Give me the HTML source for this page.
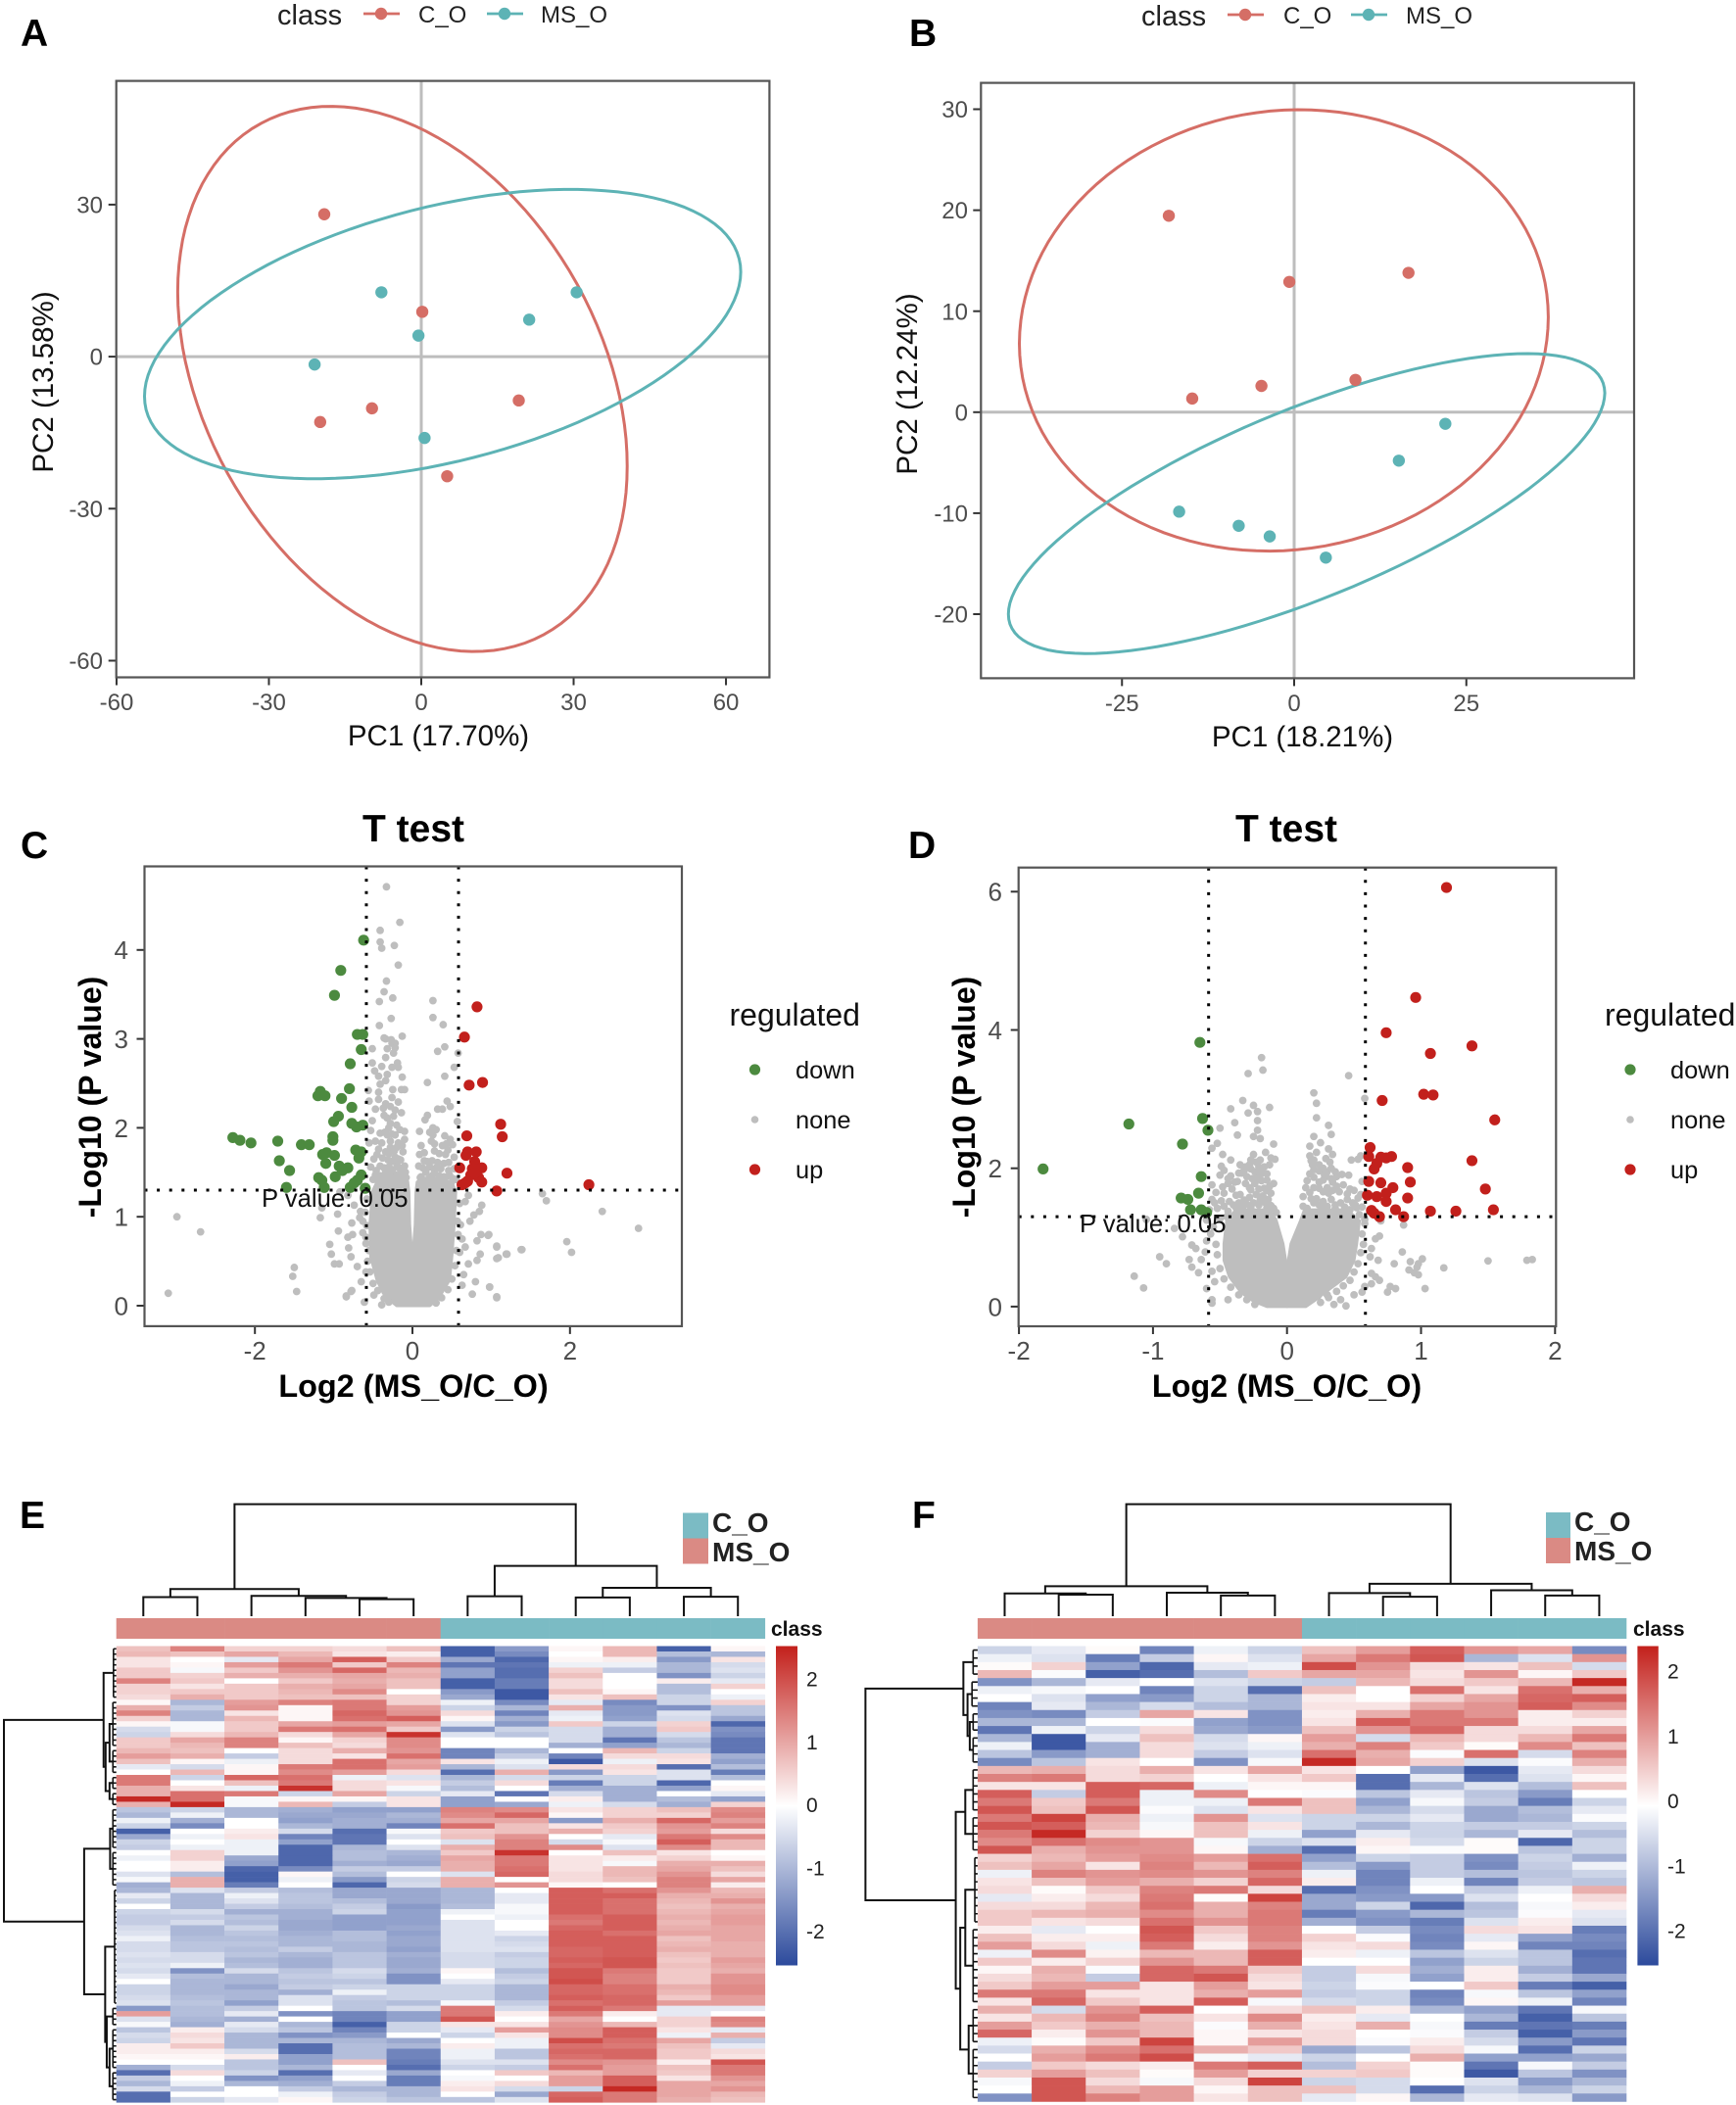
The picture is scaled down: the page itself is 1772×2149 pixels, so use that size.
<!DOCTYPE html>
<html lang="en">
<head>
<meta charset="utf-8">
<title>PCA, volcano and heatmap panels</title>
<style>
html,body{margin:0;padding:0;background:#fff}
svg{display:block}
text{font-family:"Liberation Sans",Arial,sans-serif}
.pl{font-size:39px;font-weight:700;fill:#000}
.lt{font-size:29px;fill:#222}
.li{font-size:24px;fill:#222}
.at{font-size:29.5px;fill:#111}
.ttl{font-size:39px;font-weight:700;fill:#000}
.bl{font-size:32px;font-weight:700;fill:#000}
.blx{font-size:32.4px;font-weight:700;fill:#000}
.rt{font-size:32px;fill:#111}
.ri{font-size:25.4px;fill:#111}
.pv{font-size:25.7px;fill:#111}
.hl{font-size:28px;font-weight:700;fill:#222}
.cl{font-size:21px;font-weight:700;fill:#111}
</style>
</head>
<body>
<svg id="figure" xmlns="http://www.w3.org/2000/svg" width="1772" height="2149" viewBox="0 0 1772 2149">
<defs>
<linearGradient id="heatGrad" x1="0" y1="0" x2="0" y2="1">
<stop offset="0" stop-color="#c3201b"/><stop offset="0.5" stop-color="#ffffff"/><stop offset="1" stop-color="#2c4a9c"/>
</linearGradient>
</defs>
<rect width="1772" height="2149" fill="#fff"/>
<g id="panelA"></g>
<g id="panelB"></g>
<g id="panelC"></g>
<g id="panelD"></g>
<g id="panelE"></g>
<g id="panelF"></g>

<g>
<text class="pl" x="21" y="47">A</text>
<text class="pl" x="928" y="47">B</text>
<text class="pl" x="21" y="876">C</text>
<text class="pl" x="927" y="876">D</text>
<text class="pl" x="20" y="1560">E</text>
<text class="pl" x="931" y="1560">F</text>
</g>

<g>
<text class="lt" x="283" y="25">class</text>
<line x1="371" x2="408" y1="14" y2="14" stroke="#d56e66" stroke-width="2.8"/>
<circle cx="389" cy="14" r="6.2" fill="#d56e66"/>
<text class="li" x="427" y="23">C_O</text>
<line x1="497" x2="534" y1="14" y2="14" stroke="#5db3b5" stroke-width="2.8"/>
<circle cx="515" cy="14" r="6.2" fill="#5db3b5"/>
<text class="li" x="552" y="23">MS_O</text>
</g>
<g>
<text class="lt" x="1165" y="26">class</text>
<line x1="1253" x2="1290" y1="15" y2="15" stroke="#d56e66" stroke-width="2.8"/>
<circle cx="1271" cy="15" r="6.2" fill="#d56e66"/>
<text class="li" x="1310" y="24">C_O</text>
<line x1="1379" x2="1416" y1="15" y2="15" stroke="#5db3b5" stroke-width="2.8"/>
<circle cx="1397" cy="15" r="6.2" fill="#5db3b5"/>
<text class="li" x="1435" y="24">MS_O</text>
</g>

<text class="at" x="447.5" y="761" text-anchor="middle">PC1 (17.70%)</text>
<text class="at" transform="translate(54,390) rotate(-90)" text-anchor="middle">PC2 (13.58%)</text>
<text class="at" x="1329.5" y="762" text-anchor="middle">PC1 (18.21%)</text>
<text class="at" transform="translate(936,392) rotate(-90)" text-anchor="middle">PC2 (12.24%)</text>

<text class="ttl" x="422" y="859" text-anchor="middle">T test</text>
<text class="blx" x="422" y="1426" text-anchor="middle">Log2 (MS_O/C_O)</text>
<text class="bl" transform="translate(103,1120) rotate(-90)" text-anchor="middle">-Log10 (P value)</text>
<text class="pv" x="267" y="1232">P value: 0.05</text>
<g>
<text class="rt" x="744.5" y="1047">regulated</text>
<circle cx="770.5" cy="1092" r="5.6" fill="#4c8a3f"/>
<text class="ri" x="812" y="1101">down</text>
<circle cx="770.5" cy="1143" r="3.8" fill="#bebebe"/>
<text class="ri" x="812" y="1152">none</text>
<circle cx="770.5" cy="1194" r="5.6" fill="#c2201c"/>
<text class="ri" x="812" y="1203">up</text>
</g>

<text class="ttl" x="1313" y="859" text-anchor="middle">T test</text>
<text class="blx" x="1313.5" y="1426" text-anchor="middle">Log2 (MS_O/C_O)</text>
<text class="bl" transform="translate(995,1120) rotate(-90)" text-anchor="middle">-Log10 (P value)</text>
<text class="pv" x="1102" y="1258">P value: 0.05</text>
<g>
<text class="rt" x="1634" y="1047" transform="translate(4,0)">regulated</text>
<circle cx="1664" cy="1092" r="5.6" fill="#4c8a3f"/>
<text class="ri" x="1705" y="1101">down</text>
<circle cx="1664" cy="1143" r="3.8" fill="#bebebe"/>
<text class="ri" x="1705" y="1152">none</text>
<circle cx="1664" cy="1194" r="5.6" fill="#c2201c"/>
<text class="ri" x="1705" y="1203">up</text>
</g>

<g>
<rect x="697" y="1544.5" width="26" height="26" fill="#7bbbc4"/>
<rect x="697" y="1570.5" width="26" height="26" fill="#da8a84"/>
<text class="hl" x="727" y="1564">C_O</text>
<text class="hl" x="727" y="1594">MS_O</text>
</g>
<text class="cl" x="787" y="1670">class</text>
<g>
<rect x="1578" y="1544" width="25" height="26" fill="#7bbbc4"/>
<rect x="1578" y="1570" width="25" height="26" fill="#da8a84"/>
<text class="hl" x="1607" y="1563">C_O</text>
<text class="hl" x="1607" y="1593">MS_O</text>
</g>
<text class="cl" x="1667" y="1670">class</text>
</svg>

<script>
// ---------- Panel A / B (PCA) values ----------
const aXTicks = [-60,-30,0,30,60];
const aYTicks = [-60,-30,0,30];
const bXTicks = [-25,0,25];
const bYTicks = [-20,-10,0,10,20,30];
const aPointsCO = [[-19.1,28.1],[0.2,8.85],[19.2,-8.65],[-9.7,-10.2],[-19.9,-12.9],[5.1,-23.6]];
const aPointsMSO = [[-7.85,12.7],[-0.55,4.15],[30.6,12.7],[21.25,7.3],[-21,-1.55],[0.65,-16.05]];
const bPointsCO = [[-18.2,19.45],[-0.7,12.9],[16.6,13.8],[-4.75,2.6],[-14.8,1.35],[8.9,3.2]];
const bPointsMSO = [[21.95,-1.15],[15.2,-4.8],[-16.7,-9.85],[-8.05,-11.25],[-3.55,-12.3],[4.6,-14.4]];
// ellipse summary: centre x, centre y, half-range x, half-range y, correlation
const aEllipseCO = [-3.7,-4.4,44.25,53.8,-0.32];
const aEllipseMSO = [4.2,4.45,58.7,28.55,0.43];
const bEllipseCO = [-1.5,8.1,38.4,21.85,0.06];
const bEllipseMSO = [1.8,-9.05,43.3,14.85,0.737];

// ---------- Panel C (volcano) values: [log2 ratio, -log10 p] ----------
const cXTicks = [-2,0,2];
const cYTicks = [0,1,2,3,4];
const cFoldCut = [-0.585,0.585];
const cPCut = 1.3;
const cDown = [[-.62,4.11],[-.91,3.77],[-.99,3.49],[-.70,3.05],[-.63,3.05],[-.65,2.88],[-.79,2.72],[-.80,2.44],[-1.17,2.41],[-1.2,2.36],[-1.11,2.36],[-.9,2.33],[-.77,2.23],[-.94,2.13],[-1.0,2.07],[-.77,2.05],[-.71,2.01],[-.63,2.03],[-2.28,1.89],[-2.19,1.86],[-2.05,1.83],[-1.71,1.85],[-1.41,1.81],[-1.31,1.81],[-1.01,1.9],[-1.01,1.86],[-.72,1.75],[-.65,1.73],[-.68,1.66],[-1.14,1.7],[-1.09,1.72],[-.99,1.69],[-1.1,1.6],[-1.69,1.63],[-1.56,1.52],[-.93,1.57],[-.82,1.55],[-.89,1.52],[-1.19,1.44],[-1.15,1.41],[-.98,1.45],[-.65,1.47],[-.70,1.41],[-1.6,1.33],[-1.12,1.33],[-.79,1.33],[-.74,1.38],[-.6,1.32]];
const cUp = [[.82,3.36],[.66,3.02],[.89,2.51],[.72,2.48],[1.12,2.04],[1.14,1.9],[.69,1.91],[.7,1.73],[.81,1.73],[.68,1.69],[.79,1.62],[.6,1.55],[.76,1.54],[.88,1.55],[1.2,1.49],[.74,1.47],[.84,1.44],[.7,1.4],[.63,1.36],[.88,1.39],[1.07,1.29],[2.24,1.36],[.79,1.49],[.67,1.38]];
const cNone = [[-.33,4.71],[-.16,4.31],[-.41,4.22],[-.41,4.09],[-.23,4.05],[-.39,4.02],[-.18,3.83],[-.33,3.65],[-.36,3.53],[-.25,3.46],[-.42,3.42],[.26,3.43],[.26,3.24],[-.27,3.23],[.39,3.16],[-.42,3.15],[-.13,3.03],[-.36,3.01],[-.27,2.99],[-.22,2.95],
[-.34,3.0],[-.26,2.95],[-.22,2.9],[-.51,2.89],[-.32,2.89],[-.24,2.84],[-.34,2.79],[-.51,2.73],[-.39,2.69],[-.19,2.73],[-.26,2.68],[-.18,2.68],[-.48,2.64],[-.43,2.58],[-.32,2.6],[-.13,2.57],[-.34,2.53],[-.41,2.49],[-.25,2.43],[-.14,2.43],[-.1,2.43],[-.56,2.42],[-.43,2.4],[-.55,2.3],[-.43,2.32],[-.34,2.27],[-.18,2.29],[-.28,2.24],[-.22,2.2],[-.47,2.21],[-.14,2.17],[-.36,2.14],[-.32,2.11],[-.24,2.13],[-.51,2.08],[-.28,2.05],[-.2,2.03],[-.1,1.96],[-.32,1.92],[-.53,1.97],[-.22,1.92],[-.47,1.85],[-.39,1.83],[-.55,1.83],[-.28,1.85],[-.18,1.83],[-.1,1.87],[-.43,1.76],[-.34,1.73],[-.12,1.73],[-.22,1.67],[-.18,1.65],[-.49,1.65],[-.53,1.56],[-.41,1.57],[-.3,1.56],[-.18,1.56],[-.1,1.57],[-.47,1.47],[-.34,1.5],[-.22,1.47],[-.12,1.47],[-.43,1.39],[-.3,1.41],[-.18,1.39],[-.09,1.39],
[-.5,1.42],[-.46,1.52],[-.44,1.45],[-.41,1.46],[-.38,1.43],[-.36,1.55],[-.35,1.46],[-.32,1.44],[-.29,1.5],[-.27,1.43],[-.25,1.53],[-.24,1.44],[-.2,1.46],[-.2,1.6],[-.16,1.45],[-.15,1.52],[-.14,1.42],[-.11,1.41],[-.09,1.5],[-.08,1.44],[-.26,1.62],[-.31,1.64],[-.38,1.66],[-.15,1.64],[-.23,1.74],[-.28,1.78],[-.2,1.78],[-.13,1.8],[-.45,1.7],[-.3,1.71],[-.26,1.93],[-.35,1.95],[-.16,1.98],[-.41,1.94],[-.3,2.0],[-.37,2.22],[-.26,2.34],
[.32,2.86],[.41,2.91],[.58,2.84],[.53,2.68],[.41,2.58],[.19,2.51],[.44,2.3],[.48,2.24],[.32,2.21],[.38,2.21],[.19,2.14],[.16,2.09],[.57,2.07],[.26,2.0],[.09,1.96],[.26,1.92],[.41,1.91],[.48,1.87],[.24,1.85],[.11,1.8],[.38,1.8],[.51,1.81],[.15,1.72],[.28,1.74],[.42,1.7],[.09,1.7],[.53,1.67],[.15,1.63],[.32,1.61],[.46,1.61],[.08,1.57],[.22,1.56],[.36,1.54],[.53,1.54],[.11,1.45],[.28,1.5],[.4,1.45],[.51,1.43],[.22,1.43],[.32,1.39],[.44,1.37],[.1,1.39],
[.1,1.44],[.14,1.41],[.17,1.5],[.2,1.42],[.25,1.46],[.27,1.41],[.3,1.55],[.34,1.46],[.37,1.42],[.42,1.44],[.47,1.47],[.49,1.38],[.55,1.42],[.13,1.55],[.19,1.62],[.25,1.63],[.4,1.6],[.46,1.52],[.28,1.82],[.34,1.71],[.45,1.75],[.3,1.98],[.22,1.95],[.43,1.82],
[-.92,1.28],[-.82,1.24],[-1.15,1.1],[-1.17,.99],[-.95,1.03],[-.74,1.13],[-.66,1.06],[-.67,.99],[-.77,.93],[-.63,.95],[-.94,.84],[-.76,.8],[-.82,.77],[-.63,.82],[-1.05,.69],[-1.03,.58],[-.81,.65],[-.78,.55],[-.99,.47],[-.93,.47],[-.7,.44],[-1.5,.43],[-1.52,.33],[-1.47,.16],[-.84,.1],[-.77,.17],[-.65,.27],[-.55,.62],[-.59,.77],[-.49,.12],[-.39,.01],[-.59,.38],
[-.58,1.2],[-.6,1.05],[-.58,.9],[-.59,.7],[-.57,.5],[-.54,.38],[-.5,.25],[-.44,.17],[-.36,.08],[-.3,.04],
[.71,1.24],[.67,1.17],[.88,1.13],[.78,1.02],[.85,1.06],[.73,.95],[.61,.91],[.87,.8],[.97,.8],[.82,.73],[.63,.75],[1.07,.66],[.67,.66],[.86,.58],[1.2,.58],[1.39,.63],[1.09,.54],[.82,.51],[.71,.47],[.65,.35],[.8,.27],[.98,.21],[1.07,.1],[.76,.13],[.63,.23],
[.6,1.15],[.57,.95],[.58,.8],[.56,.62],[.54,.45],[.5,.3],[.45,.18],[.37,.09],[.3,.03],[.6,.6],
[-3.1,.14],[-2.99,1.0],[-2.69,.83],[1.65,1.26],[1.7,1.18],[2.41,1.06],[2.87,.87],[1.96,.72],[2.02,.6],[1.38,.63],[1.19,.58],[1.07,.67],[1.07,.53],[1.07,.09],[.98,.21],[.96,.79],[-.84,.11],[-.78,.16],[-.61,.04]];
// envelope of the unresolvable dense "none" cloud, read per -log10 p level
const cDenseLevels = [0,.07,.14,.29,.55,.91,1.28,1.39];
const cDenseLeftOuter = [-.2,-.3,-.37,-.45,-.53,-.54,-.51,-.45];
const cDenseLeftInner = [0,0,0,0,-.005,-.035,-.045,-.06];
const cDenseRightInner = [0,0,0,0,.005,.035,.045,.06];
const cDenseRightOuter = [.22,.31,.37,.47,.5,.53,.55,.5];

// ---------- Panel D (volcano) values ----------
const dXTicks = [-2,-1,0,1,2];
const dYTicks = [0,2,4,6];
const dFoldCut = [-0.585,0.585];
const dPCut = 1.3;
const dDown = [[-.65,3.82],[-.63,2.72],[-1.18,2.64],[-.59,2.55],[-.78,2.35],[-1.82,1.99],[-.64,1.88],[-.66,1.64],[-.79,1.57],[-.74,1.55],[-.72,1.4],[-.64,1.4],[-.6,1.36]];
const dUp = [[1.19,6.06],[.96,4.47],[.74,3.96],[1.38,3.77],[1.07,3.66],[1.02,3.07],[1.09,3.06],[.71,2.98],[1.55,2.7],[.62,2.3],[.61,2.17],[.7,2.16],[.74,2.15],[.78,2.17],[1.38,2.11],[.67,2.07],[.65,1.99],[.9,2.01],[.61,1.81],[.7,1.79],[.92,1.8],[.79,1.72],[1.48,1.7],[.6,1.61],[.67,1.59],[.74,1.64],[.74,1.52],[.9,1.57],[.81,1.4],[.63,1.39],[1.07,1.38],[1.26,1.38],[1.54,1.4],[.65,1.35],[.69,1.3],[.87,1.3]];
const dNone = [[-.19,3.6],[-.18,3.42],[-.29,3.37],[.46,3.34],[.2,3.09],[.22,2.94],[.58,3.01],[-.33,2.98],[-.25,2.91],[-.42,2.86],[-.13,2.88],[-.22,2.82],[-.29,2.8],[.22,2.73],[-.22,2.69],[-.39,2.66],[-.5,2.58],[.31,2.62],[-.22,2.55],[.33,2.49],[-.25,2.46],[-.37,2.48],[-.2,2.43],[.2,2.46],[.25,2.37],[-.52,2.36],[-.1,2.35],[-.56,2.29],[.17,2.32],[.22,2.23],[-.48,2.2],[-.25,2.2],[-.16,2.23],[.34,2.2],[-.09,2.13],[-.42,2.12],[.18,2.11],[.48,2.12],[.53,2.13],[.55,2.18],[.32,2.09],[-.23,2.09],[-.49,2.03],[-.17,2.02],[-.31,2.02],[.24,2.05],[-.47,1.97],[-.34,1.93],[-.27,1.99],[.17,1.92],[-.15,1.92],[.3,1.95],[-.42,1.89],[.41,1.91],[.46,1.9],[-.23,1.85],[-.37,1.81],[-.1,1.78],[.27,1.83],[.34,1.8],[.2,1.87],[.56,1.81],[-.56,1.76],[-.48,1.73],[-.27,1.69],[-.17,1.71],[.24,1.71],[.14,1.72],[.47,1.7],[-.47,1.64],[-.38,1.61],[-.12,1.64],[.39,1.66],[.31,1.64],[-.54,1.5],[-.49,1.53],[-.32,1.54],[-.2,1.54],[.12,1.59],[.22,1.56],[.53,1.57],[-.38,1.43],[-.27,1.43],[-.15,1.43],[.12,1.45],[.27,1.43],[.36,1.47],[.47,1.4],[.51,1.47],[-.44,1.38],[-.08,1.36],[.14,1.33],[.31,1.31],[-.45,1.3],[-.33,1.32],[-.24,1.35],[-.12,1.3],[.2,1.36],[.38,1.32],[.45,1.3],[.54,1.33],[-.5,1.27],[-.1,1.25],
[-.52,1.42],[-.47,1.45],[-.43,1.52],[-.4,1.47],[-.36,1.5],[-.33,1.44],[-.3,1.48],[-.28,1.58],[-.25,1.5],[-.23,1.62],[-.21,1.47],[-.18,1.6],[-.16,1.5],[-.14,1.55],[-.12,1.46],[-.1,1.42],[-.35,1.62],[-.41,1.7],[-.44,1.78],[-.39,1.8],[-.31,1.78],[-.28,1.72],[-.24,1.78],[-.21,1.7],[-.15,1.68],[-.13,1.74],[-.19,1.82],[-.3,1.88],[-.26,1.85],[-.2,1.9],[-.15,1.83],[-.36,1.93],[-.24,1.95],[-.32,1.97],[-.19,1.98],[-.28,2.05],[-.21,2.02],[-.13,2.05],[-.12,2.15],[-.2,2.12],[-.27,2.12],[-.35,2.05],[-.44,1.85],[-.5,1.9],[-.53,1.65],[-.56,1.55],[-.58,1.4],[-.6,1.25],[-.55,1.15],[-.57,1.05],[-.53,.9],[-.52,.75],[-.5,.55],[-.47,.4],[-.42,.28],[-.36,.17],[-.3,.1],[-.24,.03],
[.15,1.42],[.2,1.5],[.18,1.56],[.24,1.47],[.27,1.52],[.3,1.45],[.33,1.55],[.36,1.42],[.4,1.5],[.43,1.44],[.45,1.55],[.49,1.5],[.52,1.43],[.56,1.44],[.17,1.65],[.2,1.72],[.27,1.66],[.3,1.72],[.34,1.68],[.37,1.74],[.42,1.76],[.45,1.63],[.5,1.68],[.55,1.62],[.24,1.8],[.29,1.88],[.33,1.85],[.37,1.88],[.2,1.98],[.24,1.96],[.28,1.9],[.27,2.0],[.33,2.0],[.36,1.95],[.15,1.82],[.19,2.05],[.17,2.18],[.2,2.12],[.29,2.14],[.31,2.28],[.58,1.2],[.56,1.05],[.57,.9],[.55,.78],[.53,.62],[.5,.5],[.47,.38],[.42,.3],[.37,.22],[.3,.17],[.25,.06],
[-1.05,1.26],[-.84,1.13],[-.78,1.01],[-.71,.89],[-.68,.84],[-.6,.95],[-.61,.79],[-.95,.72],[-.9,.62],[-1.14,.44],[-1.07,.27],[-.73,.68],[-.64,.68],[-.71,.57],[-.66,.49],[-.56,.51],[-.54,.36],[-.6,.26],[-.56,.1],[-.56,.05],[-.44,.1],
[.58,1.26],[.7,1.24],[.87,1.18],[.69,1.02],[.66,.98],[.63,.84],[.62,.72],[.68,.67],[.86,.79],[.8,.62],[.92,.65],[1.01,.69],[.98,.62],[.97,.57],[.91,.53],[.95,.49],[.98,.46],[1.17,.56],[.63,.48],[.69,.38],[.66,.43],[.63,.33],[.77,.29],[.75,.21],[.81,.26],[1.03,.26],[.56,.21],[.5,.17],[.58,.29],[.31,.13],[.4,.1],[.44,.01],[.35,.03],[.23,.15],[1.5,.66],[1.79,.67],[1.83,.68]];
const dDenseLevels = [0,.08,.2,.43,.67,.91,1.24,1.4];
const dDenseLeftOuter = [-.15,-.25,-.34,-.43,-.47,-.47,-.45,-.38];
const dDenseLeftInner = [0,0,0,0,-.01,-.03,-.08,-.13];
const dDenseRightInner = [0,0,0,0,.01,.03,.1,.13];
const dDenseRightOuter = [.14,.2,.28,.44,.5,.52,.54,.45];

// ---------- Panel E (heatmap) values ----------
const eColorTicks = [2,1,0,-1,-2];
const fColorTicks = [2,1,0,-1,-2];
const heatE = [
[.7,1.4,.5,.5,.4,.7,-2.2,-1.4,.1,.8,-2.2,.1],
[.8,.7,1,.8,.3,.2,-2.2,-1.6,0,.8,-.9,-1],
[.3,0,-.3,1,1.8,.6,-1.2,-2.1,.1,.2,-1.4,.3],
[.3,.1,1.1,1.5,.6,1.4,-1.9,-1.9,-.2,-.2,-1,-.5],
[.6,-.1,.6,1.2,1.7,.8,-1.3,-2,.5,-.7,-1,-.4],
[.6,.5,.9,.9,1,.9,-1.3,-2,.7,0,-1.5,-.6],
[1.4,.6,0,.6,.9,.7,-2.2,-1.8,.4,0,.2,-.3],
[.5,.3,.6,.9,1,.7,-2.2,-1.8,.4,0,-.9,.5],
[.5,.6,.6,.8,1.3,0,-1.4,-2.3,.7,.1,-.9,0],
[.4,.9,.6,.7,.7,.5,-1.2,-2.3,.3,.7,-.6,-.2],
[.1,-1,1.1,1.4,1.5,.5,-.2,-1.6,-.3,-1.6,-.6,.5],
[.9,-.7,1.2,.1,1.5,1.1,-.6,-1,.9,-1.4,-1.5,-.8],
[1.4,-1,.3,.1,1.7,1.2,.4,-1.7,-.3,-1.4,-.4,-.8],
[.5,-1,.8,.1,1.6,1.8,.1,-1.1,-.2,-1.3,-.5,-1.2],
[.1,-.1,.6,1,1.1,1,-.4,-1.4,.6,-.6,.5,-2.1],
[-.5,-.1,.6,1.5,1.6,.6,-1.4,-.6,-.5,-1.1,.6,-1.5],
[-.6,.4,.8,.4,1,2.3,-.4,-.8,-.5,-1.1,-.5,-1.6],
[.6,1,1.4,.1,.5,1.3,0,0,-.5,-1.9,-.8,-1.9],
[.6,.8,1.4,.7,.4,1.3,0,0,-1.1,-1.3,-1,-1.9],
[.8,.7,0,.4,.9,1.2,-1.7,-1,0,.8,-.6,-1.9],
[1.1,.9,-.7,.4,.3,1.6,-1.7,-.7,-1.7,.4,.4,-1.1],
[.7,.1,-.2,.4,1.6,1,.3,-.2,-2.3,-.2,.3,-1.3],
[-.3,-.5,.1,1.5,1.6,1.1,-1,-.4,.4,.4,-2,-.9],
[0,.8,.1,1.3,1.1,.4,-2,.9,-1.4,.3,-.4,-1.8],
[1.5,-.6,1.7,1.6,-.2,-.4,-1,-.5,-.6,-.6,-.4,-.9],
[1.5,0,.7,1.5,.4,.3,-.7,.4,-1.8,-.6,-2.1,0],
[.9,.3,-.2,2.3,.4,-.1,-.9,0,-1.1,-1.1,-1.3,.1],
[.9,1.6,1.5,-.6,1,-.6,-.3,-1.9,-.5,-1.1,0,-.3],
[2.4,1.6,-.1,.1,.1,.3,-1.3,0,.2,-1.1,-.9,-1.3],
[.9,2.4,-.1,.8,-.7,.3,-1.3,-1.2,-.2,-.5,-1.1,.5],
[-.8,-.6,-1,-1.1,-1.3,-1.3,1.4,1.3,.3,.5,.7,1.3],
[-1,-.2,-1,-1.2,-1.2,-1,1.3,1.7,.1,.5,.5,1.4],
[-.2,-1.1,0,-1.3,-1.1,-1.1,1,1,-1.4,.9,1.7,1.1],
[-.6,-1.6,0,-1,-1.1,-1.7,1.6,.7,.3,.6,1.2,1.4],
[-2.2,0,.2,-.5,-2,-.1,.6,.7,.9,.5,1.1,.4],
[-1.2,-.2,.3,-1.7,-1.9,-.4,.7,1.2,0,-.3,1.5,1.3],
[-.6,0,-.2,-1.3,-1.9,0,-.4,1.4,-.5,-.1,1.8,.8],
[-.7,-.2,-.2,-2.1,-1,-.4,.9,1.4,1.3,-.4,1.3,.8],
[0,.5,-.2,-2.1,-.9,-1,.6,2.3,0,.7,.3,0],
[-.2,.5,-1.2,-2.1,-.9,-1.1,1,1.5,.3,.2,.5,.1],
[0,.2,-1.3,-2.1,-1.1,-1.2,.9,1.5,.3,-.1,.9,.9],
[0,.2,-2.1,-1.6,-.7,-.7,.9,1.6,.3,.8,1,.7],
[-.4,-.9,-2.2,.1,-.9,0,-.4,1.7,.4,.8,1.2,.4],
[-.1,.9,-2.2,-.2,-1.4,-.6,.9,0,.4,.7,1.4,1],
[-1.1,.9,-1.8,0,-2.1,-.5,.9,1.2,.1,0,1.4,.2],
[-1,-.4,-.7,-.9,-1.2,-1.2,-1,0,1.8,1.6,1.2,.8],
[-.3,-1,-.2,-.8,-1.2,-1.2,-1,-.3,1.8,1.8,.9,.9],
[-.6,-1,-.4,-.8,-.9,-1.2,-1,-.3,1.8,1.6,.8,1.2],
[0,-1,-.7,-.9,-.7,-1.4,-.9,-.1,1.8,1.6,.7,.9],
[-.6,-.5,-1.1,-1.1,-.6,-1.3,-.2,-.1,1.8,1.6,.8,1],
[-.7,-.7,-.8,-1.1,-1.3,-1.3,0,-.2,1.6,1.8,.9,1.1],
[-.7,-.5,-.9,-1.2,-1.3,-1.3,-.4,0,1.5,1.8,.8,1.1],
[-.5,-1,-.6,-1.2,-1.3,-1.2,-.4,0,1.7,1.8,.9,1],
[-.4,-1,-.8,-1.1,-.9,-1.3,-.4,-.3,1.8,1.6,1,1],
[-.2,-.9,-.9,-1,-.9,-1.2,-.4,-.6,1.8,1.8,.7,1],
[-.5,-.8,-.8,-1,-1,-1.2,-.4,-.5,1.8,1.8,.8,.9],
[-.5,-.8,-.9,-.7,-1,-1.3,-.4,-.4,1.7,1.8,.9,.9],
[-.4,-.5,-.8,-1,-.8,-1.1,-.5,-.7,1.7,1.8,.7,.9],
[-.5,-.5,-1,-1.1,-.8,-1.2,-.5,-.6,1.8,1.9,.6,1.1],
[-.4,-.2,-.9,-1.1,-.8,-1.2,-.5,-.6,1.7,1.9,.7,1],
[-.5,-1.5,-.5,-.8,-.5,-1.1,.1,-.9,1.9,1.5,.6,.9],
[-.3,-.9,-1,-.7,-.6,-1.5,0,-.7,1.9,1.4,.6,1.2],
[0,-1,-1,-.8,-.8,-1.5,-.3,-.6,2,1.4,.6,1.2],
[-.6,-1,-1.2,-.7,-.6,-.6,-.6,-1,1.7,1.6,.9,1.3],
[-.6,-1,-1,-1.1,-.2,-.6,-.6,-1,1.7,1.6,.8,1.3],
[-.5,-.9,-1,-.4,-.7,-.6,-.6,-1,1.8,1.7,.6,1.1],
[-.4,-.8,-1.3,-.4,-.8,-.9,-.1,-.7,1.6,1.7,1.1,1.1],
[-1.4,-.9,-.7,0,-.8,-.5,1.5,-.5,1.8,1.5,-.3,-.3],
[1.1,-.9,-.3,-1.5,-1.7,-1.3,1.5,.2,1.5,.2,-.3,0],
[-.4,-1,-1.1,0,-1.7,-1.3,1.9,0,1,0,.5,1.4],
[-.1,-1.1,-.3,-1,-2.2,-.6,.3,.3,1.2,.8,.5,1.3],
[-.8,.2,-.5,-.8,-1.7,-.6,-.3,1.1,1.3,1.8,.3,-.3],
[-.5,.4,-1,-1.5,-1.4,0,-.6,.3,1.3,1.8,-.2,.9],
[-.6,.3,-1,-1,-1,-1.2,0,-.2,2,1.6,1,-.7],
[.2,.6,-1,-2,-.9,-1,.2,-.2,1.6,1.5,.7,-.3],
[.2,.2,-.5,-2,-.9,-1.7,-.2,-.8,1.7,1.7,.6,.4],
[.1,.1,.2,-1.3,-.9,-1.7,-.2,-.8,1.6,1.7,.6,.3],
[0,0,-.8,-1.3,.7,-1.8,-.4,-.4,1.3,1.2,.2,1.9],
[-1.1,-.5,-.8,-1,0,-2,-.6,-.7,1.6,1.1,.7,1.5],
[-2,.4,-.6,-2,-.3,-1.2,0,.6,.8,1.1,.6,1.5],
[-.7,0,-1.5,-1.3,0,-1.8,-.1,0,1.1,1.8,.3,1.2],
[-1,-.2,-1,-1.1,-.7,-1.8,.2,.4,1.1,1.8,1,1],
[-.5,-.7,0,-.7,-1,-1,.3,-.5,-.6,2.4,1,1.2],
[-2,0,0,-.2,-.7,-1,0,-1.2,1.7,1.5,1,.8],
[-2,-.6,-.3,.1,-.6,-.8,-.8,-.4,1.8,1.5,.9,.7]
];
// ---------- Panel F (heatmap) values ----------
const heatF = [
[-.6,-.3,.05,-1.7,-.2,-.6,.7,1.1,1.8,1.2,1,-1.6],
[-.2,-.4,-1.8,-.7,.1,-.4,1,1.5,1.9,-1,-.4,1.2],
[.05,.5,-1.3,-2.1,-.3,-.2,2,1.2,.4,.3,.7,-.5],
[.8,-.05,-2.2,-2,-.9,.6,1,1,.3,1.2,.1,.6],
[-1.5,-1,-.3,0,-.4,-.6,-.7,.8,.4,.6,.8,2.4],
[-.2,-.1,0,-1.7,-.6,-2,.7,0,1.6,.3,1.6,.9],
[0,-.4,-1.3,-1.4,-.6,-1,.2,0,.5,1,1.7,1.8],
[-1.7,-.3,-1,-.5,-.9,-1,.3,.3,1,1.2,1.8,1.3],
[-1.5,-1.6,-.7,1,.3,-1.5,.2,.9,1.5,1.2,.2,.5],
[-1,-1,0,-.05,-1.3,-1.5,.3,1.8,1.5,1.5,.2,.2],
[-1.9,-.2,-.6,.4,-1.2,-1.4,.7,1.2,1.7,.4,.4,1],
[-1,-2.3,-.3,.7,-.5,.1,1.1,-.5,.8,.4,.8,1.5],
[-.2,-2.3,-1.1,.4,-.4,-.2,.9,1.4,.6,.05,1.3,.7],
[-.8,-1.4,-1.1,.4,-.7,-.4,1.6,.9,-.05,1.6,-.5,1.4],
[-1.6,-.8,.3,0,-1.5,-.1,2.4,1,.5,-.4,-.05,.9],
[.8,.9,.4,.9,.3,1,.3,0,-1.3,-2.3,-.3,.4],
[1.4,1.5,.4,.5,0,.3,.6,-2,-.3,-2,-.4,.1],
[.3,.3,1.8,1.7,-.2,.1,.1,-2,-1,-.4,-.9,.7],
[1.8,-.7,1.8,-.2,1.3,0,-.05,-.8,-.3,-.8,-1.4,0],
[1.5,.6,1.5,-.2,-.2,1.5,.7,-1.3,-.1,-.7,-1.8,-.6],
[1.9,.7,1.9,-.05,-.4,.3,.7,-1,-.5,-1.2,-.9,-.3],
[1.5,2.1,.9,-.2,1.2,-.4,-.6,-.6,-.3,-1.2,-1,-.05],
[1.9,1.8,.8,-.1,.7,.3,-.6,-1,-.6,-.7,-.7,-.6],
[1.5,2.4,.5,.1,.7,-.2,-1.3,-.3,-.6,-1,-.3,-.9],
[1.3,1.6,1.3,1.2,-.1,-.6,-.4,.2,-.5,.05,-2.1,-.6],
[1.9,.9,1.2,1.2,.1,-1.1,-2,.1,-.05,.05,-.8,-.6],
[.5,.8,1.1,1.3,1.1,1.6,-1.3,-.6,-.7,-1.5,-.6,-1.1],
[.7,1,.3,1.4,.8,1.8,-.9,-1.4,-.7,-1.6,-.7,-.2],
[-.2,1.4,1.2,1.3,1.2,1.4,-.2,-1.7,-.7,-.9,-.8,-.6],
[.3,.7,1.1,.9,.5,1.7,.2,-1.7,-.2,-1.7,-.7,-.8],
[.4,.05,.6,1.4,1.5,.4,-2,-1.5,0,-.7,-.2,.9],
[-.3,.2,.4,1.5,.05,2.1,-1.2,-1.4,-1.4,-.4,0,.4],
[.4,.4,.8,1.6,.9,1.4,-1.2,-.6,-2.1,-.9,-.1,.2],
[.6,.8,.9,1.3,.9,1.5,-1.8,-1.4,-1,-.8,-.05,-.3],
[.6,.3,.4,1.6,1.2,1.5,-1.1,-1.5,-1.8,-.4,.2,-.4],
[.2,-.3,0,1.9,.6,1.4,0,-.7,-1.6,.4,.3,-1.8],
[.7,.2,.2,1.8,.4,1.4,.5,-.05,-1.7,-.3,-1.3,-1.6],
[1.1,.4,-.2,1.5,.2,1.2,.3,.4,-1.6,.1,-1.7,-1.7],
[-.2,1.3,.15,.8,.8,1.8,.2,-.2,-.8,-.4,-.8,-2],
[.6,.2,.5,1.2,.8,1.8,0,0,-1.3,-.6,-.8,-1.9],
[.1,.9,-.05,1.7,1.5,.6,-.7,.4,-1.1,.2,-1.1,-1.9],
[.4,.8,-.7,1.7,1.9,.4,-.7,-.1,-1.3,.2,-.7,-1.2],
[.6,1.1,1.1,.3,1.1,.3,-.6,-.05,0,.6,-1.8,-2.2],
[1.5,1.5,.3,.3,.9,1.1,-.7,-.6,-1.7,-.1,-.8,-1.3],
[.3,1.7,.6,.3,1.8,-.1,-.5,-.6,-1.6,.1,-.2,-1.7],
[.9,-.5,1.2,1.8,0,.4,.7,.2,-1,-1.3,-1.9,-.1],
[.3,.8,1.4,.7,.3,1.3,.2,-.3,0,-1,-2.2,-.8],
[1.1,.6,.9,.8,-.05,.9,.3,.9,-.1,-1.8,-1.9,-1.8],
[1.7,.2,1.2,.8,.1,.3,.4,0,-.05,-.7,-2.2,-1.4],
[-.2,.05,.6,2.1,.1,1.1,.4,-.05,.2,-.5,-1.4,-1.9],
[-.5,.9,1.3,1.6,.9,.6,-1.2,-.8,.4,-.1,-2,-.6],
[0,1.1,1.5,2,-.1,-.3,-.6,0,.9,-1.3,-1.3,-1.2],
[-.7,.6,.4,.2,1.5,1.8,-.9,.5,.05,-1.9,-.1,-.7],
[.5,1.1,.7,.05,1.1,.5,.5,.6,.05,-2.3,-.8,-1.5],
[-.1,1.9,.4,-.1,.4,2.1,-.6,-.5,0,-.4,-1.4,-1],
[0,1.9,.8,1.1,.1,.7,.7,-.5,-2,-.6,-1,-.6],
[-1.5,1.9,1.4,1.1,.3,.7,-.3,.1,-1,-.3,-.4,-1.4]
];
// class of each column (0 = MS_O, 1 = C_O)
const heatClasses = [0,0,0,0,0,0,1,1,1,1,1,1];
// dendrograms: [merge distance, left, right]; a leaf is a column index
const eColTree = [100,[24.3,[17,0,1],[18.1,2,[16.3,3,[15.2,4,5]]]],[44.9,[17.8,6,7],[25.4,[16.7,8,9],[17.4,10,11]]]];
const fColTree = [100,[26.8,[20.3,0,[19.2,1,2]],[21,3,[18.5,4,5]]],[29,[20.7,6,[17.4,7,8]],[23.2,9,[18.5,10,11]]]];
// row dendrograms: ['comb', first row, last row, distance] is a tight leaf group
const eRowTree = [100,[11.3,['comb',0,9,2.5],[9.5,[6,['comb',10,18,3],['comb',19,23,3]],[6,['comb',24,26,3],['comb',27,29,3]]]],[28.6,[5.5,['comb',30,37,3],['comb',38,44,3]],[9.9,['comb',45,66,1.5],[8.5,['comb',67,70,3],[6,['comb',71,78,3],['comb',79,84,3]]]]]];
const fRowTree = [100,[12.7,['comb',0,3,4],[9,['comb',4,7,5],[7,['comb',8,10,4],['comb',11,14,4]]]],[19.5,[11,['comb',15,20,4],['comb',21,25,4]],[15.5,[11,['comb',26,34,2.5],['comb',35,44,4]],[8,['comb',45,49,4],['comb',50,56,4]]]]];

// ---------- drawing helpers ----------
const NS = 'http://www.w3.org/2000/svg';
function mk(tag, attrs, parent){
  const el = document.createElementNS(NS, tag);
  for (const k in attrs) el.setAttribute(k, attrs[k]);
  parent.appendChild(el);
  return el;
}

function drawAxes(g, sc, xTicks, yTicks, tickSize, xBase, yRight){
  xTicks.forEach(function(v){
    const t = mk('line',{x1:sc.x(v),x2:sc.x(v),y1:sc.b,y2:sc.b+8,stroke:'#333','stroke-width':2},g);
    
    
    const l = mk('text',{x:sc.x(v),y:xBase,'text-anchor':'middle','font-size':tickSize,fill:'#4d4d4d'},g);
    
    
    l.textContent = String(v);
  });
  yTicks.forEach(function(v){
    const t = mk('line',{x1:sc.l-8,x2:sc.l,y1:sc.y(v),y2:sc.y(v),stroke:'#333','stroke-width':2},g);
    
    
    const l = mk('text',{x:yRight,y:sc.y(v)+tickSize*0.36,'text-anchor':'end','font-size':tickSize,fill:'#4d4d4d'},g);
    
    
    l.textContent = String(v);
  });
  const f = mk('rect',{x:sc.l,y:sc.t,width:sc.r-sc.l,height:sc.b-sc.t,fill:'none',stroke:'#555','stroke-width':2.2},g);
  
  
}

function ellipsePath(sc, e){
  const cx=e[0], cy=e[1], xr=e[2], yr=e[3], rho=e[4];
  const q = Math.sqrt(1-rho*rho);
  let d = '';
  for (let i=0;i<=120;i++){
    const t = i/120*2*Math.PI;
    const px = cx + xr*Math.cos(t);
    const py = cy + yr*(rho*Math.cos(t)+q*Math.sin(t));
    d += (i?'L':'M')+sc.x(px).toFixed(1)+' '+sc.y(py).toFixed(1);
  }
  return d+'Z';
}

function drawPCA(id, sc, xT, yT, ptsRed, ptsTeal, eRed, eTeal, xBase, yRight){
  const g = document.getElementById(id);
  const h = mk('line',{x1:sc.l,x2:sc.r,y1:sc.y(0),y2:sc.y(0),stroke:'#bdbdbd','stroke-width':3},g);
  
  
  const v = mk('line',{x1:sc.x(0),x2:sc.x(0),y1:sc.t,y2:sc.b,stroke:'#bdbdbd','stroke-width':3},g);
  
  
  const er = mk('path',{d:ellipsePath(sc,eRed),fill:'none',stroke:'#d56e66','stroke-width':3},g);
  
  
  const et = mk('path',{d:ellipsePath(sc,eTeal),fill:'none',stroke:'#5db3b5','stroke-width':3},g);
  
  
  ptsRed.forEach(function(p){
    const c = mk('circle',{cx:sc.x(p[0]),cy:sc.y(p[1]),r:6.2,fill:'#d56e66'},g);
    
    
  });
  ptsTeal.forEach(function(p){
    const c = mk('circle',{cx:sc.x(p[0]),cy:sc.y(p[1]),r:6.2,fill:'#5db3b5'},g);
    
    
  });
  drawAxes(g, sc, xT, yT, 24, xBase, yRight);
}

function lobe(sc, levels, outer, inner){
  let pts = [];
  for (let i=0;i<levels.length;i++) pts.push(sc.x(outer[i]).toFixed(1)+','+sc.y(levels[i]).toFixed(1));
  for (let i=levels.length-1;i>=0;i--) pts.push(sc.x(inner[i]).toFixed(1)+','+sc.y(levels[i]).toFixed(1));
  return pts.join(' ');
}

function drawVolcano(id, sc, xT, yT, none, down, up, lv, lo, li, ri, ro, fc, pc, yRight){
  const g = document.getElementById(id);
  none.forEach(function(p){
    const c = mk('circle',{cx:sc.x(p[0]),cy:sc.y(p[1]),r:3.9,fill:'#bebebe'},g);
    
    
  });
  const a = mk('polygon',{points:lobe(sc,lv,lo,li),fill:'#bebebe',stroke:'#bebebe','stroke-width':3,'stroke-linejoin':'round'},g);
  
  
  const b = mk('polygon',{points:lobe(sc,lv,ri,ro),fill:'#bebebe',stroke:'#bebebe','stroke-width':3,'stroke-linejoin':'round'},g);
  
  
  down.forEach(function(p){
    const c = mk('circle',{cx:sc.x(p[0]),cy:sc.y(p[1]),r:5.6,fill:'#4c8a3f'},g);
    
    
  });
  up.forEach(function(p){
    const c = mk('circle',{cx:sc.x(p[0]),cy:sc.y(p[1]),r:5.6,fill:'#c2201c'},g);
    
    
  });
  fc.forEach(function(v){
    const l = mk('line',{x1:sc.x(v),x2:sc.x(v),y1:sc.t,y2:sc.b,stroke:'#000','stroke-width':3,'stroke-dasharray':'3 9.6'},g);
    
    
  });
  const h = mk('line',{x1:sc.l,x2:sc.r,y1:sc.y(pc),y2:sc.y(pc),stroke:'#000','stroke-width':3,'stroke-dasharray':'3 9.6'},g);
  
  
  drawAxes(g, sc, xT, yT, 26, 1388, yRight);
}

function heatColor(v){
  const t = Math.min(Math.abs(v)/2.5,1);
  const end = v>=0 ? [195,32,27] : [44,74,156];
  const c = end.map(function(e){ return Math.round(255+(e-255)*t); });
  return 'rgb('+c.join(',')+')';
}

function drawColTree(g, node, colX, yOf){
  if (typeof node === 'number') return {x:colX(node), y:yOf(0)};
  const a = drawColTree(g,node[1],colX,yOf), b = drawColTree(g,node[2],colX,yOf);
  const y = yOf(node[0]);
  const p = mk('path',{d:'M'+a.x+' '+a.y+'V'+y+'H'+b.x+'V'+b.y,fill:'none',stroke:'#111','stroke-width':2},g);
  
  
  return {x:(a.x+b.x)/2, y:y};
}

function drawRowTree(g, node, rowY, xOf){
  if (node[0] === 'comb'){
    const x = xOf(node[3]);
    let d = 'M'+x+' '+rowY(node[1])+'V'+rowY(node[2]);
    for (let r=node[1]; r<=node[2]; r++) d += 'M'+x+' '+rowY(r)+'H'+xOf(0);
    const p = mk('path',{d:d,fill:'none',stroke:'#111','stroke-width':1.6},g);
    
    
    return {x:x, y:(rowY(node[1])+rowY(node[2]))/2};
  }
  const a = drawRowTree(g,node[1],rowY,xOf), b = drawRowTree(g,node[2],rowY,xOf);
  const x = xOf(node[0]);
  const p = mk('path',{d:'M'+a.x+' '+a.y+'H'+x+'V'+b.y+'H'+b.x,fill:'none',stroke:'#111','stroke-width':2},g);
  
  
  return {x:x, y:(a.y+b.y)/2};
}

function drawHeat(id, matrix, left, right, top, rowH, colTree, rowTree, rootSpan, barX, barW, zeroY, unitY, labelX, ticks){
  const g = document.getElementById(id);
  const colW = (right-left)/12;
  matrix.forEach(function(row, r){
    row.forEach(function(v, c){
      const cell = mk('rect',{x:(left+c*colW).toFixed(2),y:(top+r*rowH).toFixed(2),width:(colW+0.3).toFixed(2),height:(rowH+0.3).toFixed(2),fill:heatColor(v)},g);
      
      
    });
  });
  heatClasses.forEach(function(k, c){
    const s = mk('rect',{x:(left+c*colW).toFixed(2),y:1652,width:(colW+0.3).toFixed(2),height:21,fill:k===0?'#da8a84':'#7bbbc4'},g);
    
    
  });
  drawColTree(g, colTree, function(i){ return left+(i+0.5)*colW; }, function(d){ return 1650-d*1.144; });
  drawRowTree(g, rowTree, function(i){ return top+(i+0.5)*rowH; }, function(d){ return left-d*rootSpan/100; });
  const cb = mk('rect',{x:barX,y:1680.5,width:barW,height:326,fill:'url(#heatGrad)'},g);
  
  
  ticks.forEach(function(v){
    const l = mk('text',{x:labelX,y:zeroY-v*unitY+7.5,'font-size':21,fill:'#222'},g);
    
    
    l.textContent = String(v);
  });
}

// ---------- render ----------
const aScale = {x:function(v){return 430+v*5.184;},y:function(v){return 364.1-v*5.173;},l:118.7,r:785.4,t:82.6,b:691.5};
const bScale = {x:function(v){return 1321+v*7.03;},y:function(v){return 420.8-v*10.31;},l:1001.3,r:1668,t:84.6,b:692.4};
const cScale = {x:function(v){return 421+v*80.4;},y:function(v){return 1333-v*90.8;},l:147.5,r:696,t:884.5,b:1353.9};
const dScale = {x:function(v){return 1313.7+v*136.8;},y:function(v){return 1333.9-v*70.6;},l:1039.7,r:1588.3,t:885.7,b:1354};

drawPCA('panelA',aScale,aXTicks,aYTicks,aPointsCO,aPointsMSO,aEllipseCO,aEllipseMSO,725,105);
drawPCA('panelB',bScale,bXTicks,bYTicks,bPointsCO,bPointsMSO,bEllipseCO,bEllipseMSO,726,988);
drawVolcano('panelC',cScale,cXTicks,cYTicks,cNone,cDown,cUp,cDenseLevels,cDenseLeftOuter,cDenseLeftInner,cDenseRightInner,cDenseRightOuter,cFoldCut,cPCut,131);
drawVolcano('panelD',dScale,dXTicks,dYTicks,dNone,dDown,dUp,dDenseLevels,dDenseLeftOuter,dDenseLeftInner,dDenseRightInner,dDenseRightOuter,dFoldCut,dPCut,1023);
drawHeat('panelE',heatE,118.7,780.8,1680.5,5.48,eColTree,eRowTree,114.7,792,22,1842.7,64.4,823,eColorTicks);
drawHeat('panelF',heatF,997.9,1660,1680.5,8.157,fColTree,fRowTree,114.5,1671.4,21.4,1838.6,66.2,1702,fColorTicks);
</script>
</body>
</html>
